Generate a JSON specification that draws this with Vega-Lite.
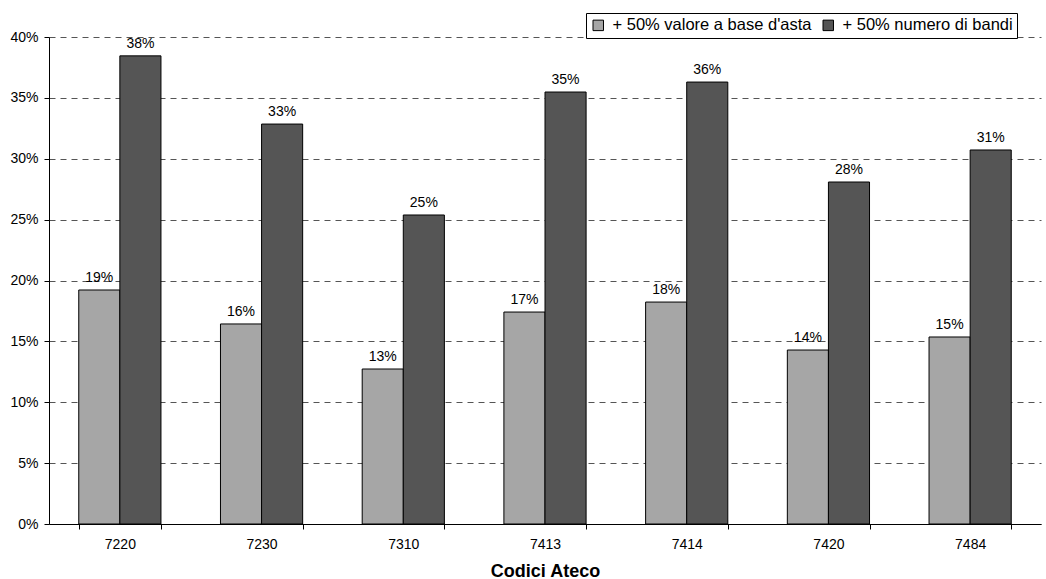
{
  "$schema": "https://vega.github.io/schema/vega-lite/v6.json",
  "autosize": {"type": "none"},
  "padding": {"left": 49, "top": 37, "right": 5, "bottom": 55},
  "width": 992,
  "height": 487,
  "background": "white",
  "config": {
    "view": {"stroke": null},
    "font": "Liberation Sans"
  },
  "data": {
    "values": [
      {"codice": "7220", "serie": "+ 50% valore a base d'asta", "v": 0.1922},
      {"codice": "7220", "serie": "+ 50% numero di bandi", "v": 0.3845},
      {"codice": "7230", "serie": "+ 50% valore a base d'asta", "v": 0.1643},
      {"codice": "7230", "serie": "+ 50% numero di bandi", "v": 0.3285},
      {"codice": "7310", "serie": "+ 50% valore a base d'asta", "v": 0.1273},
      {"codice": "7310", "serie": "+ 50% numero di bandi", "v": 0.2538},
      {"codice": "7413", "serie": "+ 50% valore a base d'asta", "v": 0.1741},
      {"codice": "7413", "serie": "+ 50% numero di bandi", "v": 0.3548},
      {"codice": "7414", "serie": "+ 50% valore a base d'asta", "v": 0.1823},
      {"codice": "7414", "serie": "+ 50% numero di bandi", "v": 0.3630},
      {"codice": "7420", "serie": "+ 50% valore a base d'asta", "v": 0.1429},
      {"codice": "7420", "serie": "+ 50% numero di bandi", "v": 0.2809},
      {"codice": "7484", "serie": "+ 50% valore a base d'asta", "v": 0.1536},
      {"codice": "7484", "serie": "+ 50% numero di bandi", "v": 0.3072}
    ]
  },
  "encoding": {
    "x": {
      "field": "codice", "type": "nominal",
      "scale": {"paddingInner": 0.42, "paddingOuter": 0.21},
      "axis": {
        "title": "Codici Ateco", "titleFontSize": 18, "titleFontWeight": "bold", "titleColor": "black",
        "titlePadding": 11,
        "labelAngle": 0, "labelFontSize": 14, "labelColor": "black", "labelPadding": 8,
        "tickBand": "extent", "tickColor": "black", "tickSize": 5,
        "domainColor": "black", "grid": false
      }
    },
    "xOffset": {"field": "serie", "type": "nominal", "sort": ["+ 50% valore a base d'asta", "+ 50% numero di bandi"]},
    "y": {
      "field": "v", "type": "quantitative",
      "scale": {"domain": [0, 0.4], "nice": false},
      "axis": {
        "title": null, "format": ".0%", "values": [0, 0.05, 0.1, 0.15, 0.2, 0.25, 0.3, 0.35, 0.4],
        "labelOverlap": false,
        "labelFontSize": 14, "labelColor": "black", "labelPadding": 6,
        "tickColor": "black", "tickSize": 5, "domainColor": "black",
        "grid": true, "gridColor": "#555555", "gridDash": [6, 5], "gridWidth": 1
      }
    }
  },
  "layer": [
    {
      "mark": {"type": "bar", "stroke": "black", "strokeWidth": 1},
      "encoding": {
        "color": {
          "field": "serie", "type": "nominal",
          "sort": ["+ 50% valore a base d'asta", "+ 50% numero di bandi"],
          "scale": {"domain": ["+ 50% valore a base d'asta", "+ 50% numero di bandi"], "range": ["#a6a6a6", "#555555"]},
          "legend": {
            "title": null, "orient": "none", "legendX": 537, "legendY": -24,
            "direction": "horizontal", "symbolType": "square", "symbolSize": 110,
            "symbolStrokeColor": "black", "symbolStrokeWidth": 1, "symbolOpacity": 1,
            "labelFontSize": 16.5, "labelColor": "black", "labelLimit": 0, "labelOffset": 6,
            "columnPadding": 8,
            "strokeColor": "black", "fillColor": "white", "padding": 4
          }
        }
      }
    },
    {
      "mark": {"type": "text", "dy": -8, "fontSize": 14, "color": "black", "baseline": "alphabetic"},
      "encoding": {
        "text": {"field": "v", "type": "quantitative", "format": ".0%"}
      }
    }
  ]
}
